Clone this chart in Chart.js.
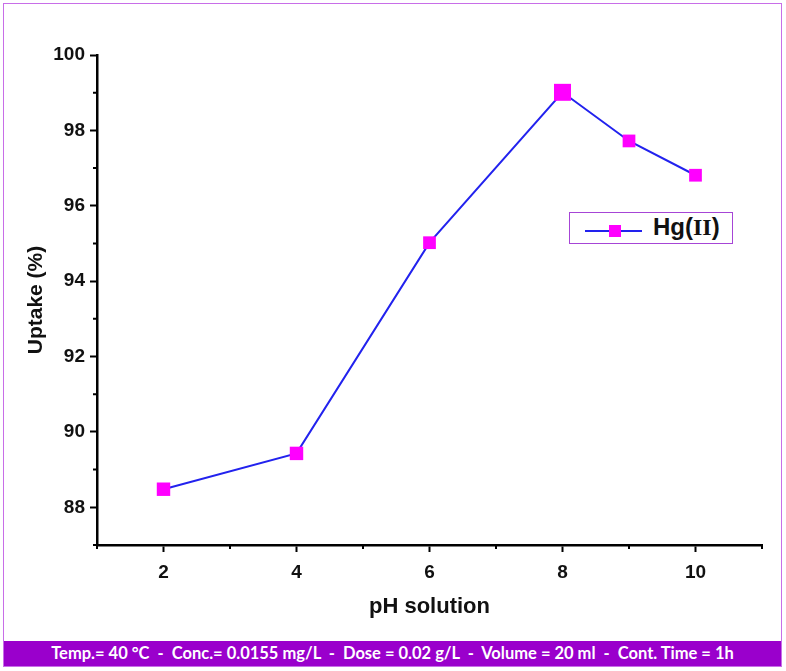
<!DOCTYPE html>
<html>
<head>
<meta charset="utf-8">
<script src="https://cdn.jsdelivr.net/npm/chart.js@4"></script>
<style>
  html, body { margin: 0; padding: 0; background: #fff; }
  #wrap { position: relative; width: 786px; height: 671px; overflow: hidden; }
  #frame { position: absolute; left: 3px; top: 3px; width: 777px; height: 662px; border: 1.5px solid #c86ee8; }
  #plot { position: absolute; left: 0; top: 0; width: 786px; height: 640px; }
  #footer { position: absolute; left: 4px; top: 641px; width: 777px; height: 25px; background: #9a00cc;
    color: #fff; font: bold 16.5px Lato, "Open Sans", sans-serif; text-align: center; line-height: 25px; white-space: pre; }
  #legend { position: absolute; left: 569px; top: 212px; width: 162px; height: 30px; border: 1.5px solid #a645d6; background: #fff; }
  #legend .ln { position: absolute; left: 15px; top: 17px; width: 57px; height: 2px; background: #2222ee; }
  #legend .mk { position: absolute; left: 39px; top: 12px; width: 12px; height: 12px; background: #ff00ff; }
  #legend .tx { position: absolute; left: 83px; top: 0px; font: bold 24px "Liberation Sans", Arial, sans-serif; color: #111; }
  #legend .tx span { font-family: "Liberation Serif", "Times New Roman", serif; }
</style>
</head>
<body>
<div id="wrap">
  <div id="frame"></div>
  <canvas id="plot" class="chart" width="786" height="640"></canvas>
  <div id="legend"><div class="ln"></div><div class="mk"></div><div class="tx">Hg(<span>II</span>)</div></div>
  <div id="footer">Temp.= 40 °C  -  Conc.= 0.0155 mg/L  -  Dose = 0.02 g/L  -  Volume = 20 ml  -  Cont. Time = 1h</div>
</div>
<script>
const phValues = [2, 4, 6, 8, 9, 10];
const uptake = [88.48, 89.43, 95.02, 99.01, 97.72, 96.81];
const xTicks = [2, 4, 6, 8, 10];
const yTicks = [88, 90, 92, 94, 96, 98, 100];
const xMinor = [1, 3, 5, 7, 9, 11];
const yMinor = [87, 89, 91, 93, 95, 97, 99];

const tickFont = { family: '"Liberation Sans", Arial', size: 19, weight: 'bold' };

// short ticks between the labelled ones
const minorTicks = {
  id: 'minorTicks',
  afterDraw(chart) {
    const ctx = chart.ctx;
    const xs = chart.scales.x, ys = chart.scales.y;
    ctx.save();
    ctx.strokeStyle = '#000';
    ctx.lineWidth = 2;
    ctx.beginPath();
    xMinor.forEach(v => {
      const px = xs.getPixelForValue(v);
      ctx.moveTo(px, xs.top);
      ctx.lineTo(px, xs.top + 4);
    });
    yMinor.forEach(v => {
      const py = ys.getPixelForValue(v);
      ctx.moveTo(ys.right, py);
      ctx.lineTo(ys.right - 4, py);
    });
    ctx.stroke();
    ctx.restore();
  }
};

const myCanvas = document.querySelector('.chart');
const myChart = new Chart(myCanvas, {
  type: 'line',
  data: {
    datasets: [{
      label: 'Hg(II)',
      data: phValues.map((x, i) => ({ x: x, y: uptake[i] })),
      borderColor: '#2222ee',
      borderWidth: 2,
      pointStyle: 'rect',
      pointRadius: [9.5, 9.5, 9, 12, 9, 9],
      pointBackgroundColor: '#ff00ff',
      pointBorderColor: '#ff00ff',
      pointBorderWidth: 0,
      tension: 0,
      clip: false
    }]
  },
  options: {
    responsive: false,
    animation: false,
    layout: { padding: { top: 55, right: 24, bottom: 0, left: 0 } },
    plugins: {
      legend: { display: false },
      tooltip: { enabled: false }
    },
    scales: {
      x: {
        type: 'linear',
        min: 1,
        max: 11,
        afterBuildTicks: s => { s.ticks = xTicks.map(v => ({ value: v })); },
        afterFit: s => { s.height = 95; },
        border: { color: '#000', width: 2.5 },
        grid: { drawOnChartArea: false, color: '#000', tickLength: 7, tickWidth: 2 },
        ticks: { color: '#111', font: tickFont, padding: 9, maxRotation: 0 },
        title: {
          display: true,
          text: 'pH solution',
          color: '#111',
          font: { family: '"Liberation Sans", Arial', size: 22, weight: 'bold' },
          padding: { top: 4, bottom: 20 }
        }
      },
      y: {
        min: 87,
        max: 100,
        afterBuildTicks: s => { s.ticks = yTicks.map(v => ({ value: v })); },
        afterFit: s => { s.width = 97; },
        border: { color: '#000', width: 2.5 },
        grid: { drawOnChartArea: false, color: '#000', tickLength: 7, tickWidth: 2 },
        ticks: { color: '#111', font: tickFont, padding: 5 },
        title: {
          display: true,
          text: 'Uptake (%)',
          color: '#111',
          font: { family: '"Liberation Sans", Arial', size: 21, weight: 'bold' },
          padding: { top: 24, bottom: 4 }
        }
      }
    }
  },
  plugins: [minorTicks]
});
</script>
</body>
</html>
